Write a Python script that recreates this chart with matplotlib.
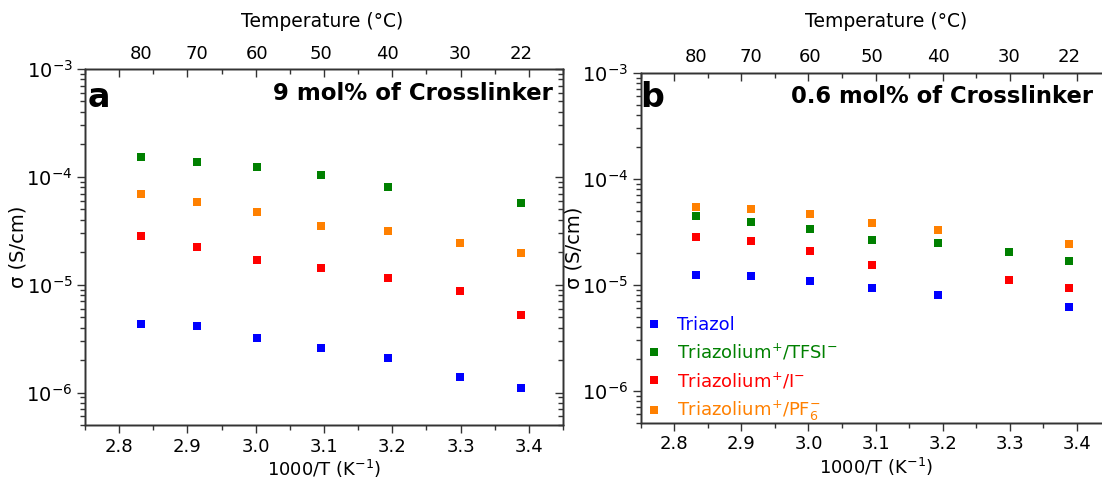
import matplotlib
matplotlib.use('Agg')
import matplotlib.pyplot as plt
import matplotlib.transforms as mtrans
import numpy as np
from matplotlib.ticker import LogLocator, NullFormatter, MultipleLocator, FormatStrFormatter

# ---- data ----
inv_T = [2.832, 2.914, 3.002, 3.095, 3.193, 3.299, 3.388]
temp_labels = ['80', '70', '60', '50', '40', '30', '22']

a_triazol = [4.31e-6, 4.10e-6, 3.19e-6, 2.61e-6, 2.08e-6, 1.39e-6, 1.09e-6]
a_tfsi = [1.52e-4, 1.36e-4, 1.24e-4, 1.04e-4, 8.09e-5, np.nan, 5.74e-5]
a_iodide = [2.81e-5, 2.25e-5, 1.70e-5, 1.42e-5, 1.15e-5, 8.65e-6, 5.25e-6]
a_pf6 = [6.97e-5, 5.87e-5, 4.74e-5, 3.47e-5, 3.12e-5, 2.43e-5, 1.97e-5]

b_triazol = [1.24e-5, 1.20e-5, 1.09e-5, 9.41e-6, 8.09e-6, np.nan, 6.14e-6]
b_tfsi = [4.42e-5, 3.94e-5, 3.38e-5, 2.64e-5, 2.45e-5, 2.05e-5, 1.68e-5]
b_iodide = [2.81e-5, 2.56e-5, 2.06e-5, 1.55e-5, np.nan, 1.10e-5, 9.22e-6]
b_pf6 = [5.46e-5, 5.14e-5, 4.64e-5, 3.82e-5, 3.31e-5, np.nan, 2.40e-5]

series_labels = ['Triazol', 'Triazolium$^{+}$/TFSI$^{-}$',
                 'Triazolium$^{+}$/I$^{-}$', 'Triazolium$^{+}$/PF$_{6}^{-}$']
colors = ['#0000FF', '#008000', '#FF0000', '#FF8000']
y_tick_labels = ['$10^{-6}$', '$10^{-5}$', '$10^{-4}$', '$10^{-3}$']
y_tick_values = [1e-6, 1e-5, 1e-4, 1e-3]

plt.rcParams['font.family'] = ['DejaVu Sans']
plt.rcParams['mathtext.default'] = 'regular'

W, H = 1102, 483
fig = plt.figure(figsize=(W / 100, H / 100), dpi=100)


def px_axes(l, t, r, b):
    return [l / W, 1 - b / H, (r - l) / W, (b - t) / H]


SPINE = '#333333'
FS = 13


def style(ax, ylab_x):
    ax.set_yscale('log')
    ax.set_ylim(5e-7, 1e-3)
    ax.set_xlim(2.75, 3.45)
    ax.xaxis.set_major_locator(MultipleLocator(0.1))
    ax.xaxis.set_minor_locator(MultipleLocator(0.05))
    ax.xaxis.set_major_formatter(FormatStrFormatter('%.1f'))
    ax.set_yticks(y_tick_values)
    ax.set_yticklabels(y_tick_labels)
    ax.yaxis.set_minor_locator(LogLocator(base=10, subs=np.arange(2, 10), numticks=20))
    ax.yaxis.set_minor_formatter(NullFormatter())
    ax.tick_params(which='major', direction='out', length=6, width=1.0,
                   labelsize=FS, color=SPINE, pad=3)
    ax.tick_params(axis='y', which='major', labelsize=14, pad=3)
    ax.tick_params(which='minor', direction='out', length=3.5, width=1.0, color=SPINE)
    for s in ax.spines.values():
        s.set_color(SPINE)
        s.set_linewidth(1.0)
    # mirrored top axis (ticks inward)
    axt = ax.twiny()
    axt.set_xlim(ax.get_xlim())
    axt.xaxis.set_major_locator(MultipleLocator(0.1))
    axt.xaxis.set_minor_locator(MultipleLocator(0.05))
    axt.tick_params(axis='x', which='major', direction='in', length=6, width=1.0,
                    labeltop=False, color=SPINE)
    axt.tick_params(axis='x', which='minor', direction='in', length=3.5, width=1.0, color=SPINE)
    # mirrored right axis (ticks inward)
    axr = ax.twinx()
    axr.set_yscale('log')
    axr.set_ylim(ax.get_ylim())
    axr.set_yticks(y_tick_values)
    axr.yaxis.set_minor_locator(LogLocator(base=10, subs=np.arange(2, 10), numticks=20))
    axr.tick_params(axis='y', which='major', direction='in', length=6, width=1.0,
                    labelright=False, color=SPINE)
    axr.tick_params(axis='y', which='minor', direction='in', length=3.5, width=1.0,
                    labelright=False, color=SPINE)
    for a2 in (axt, axr):
        for s in a2.spines.values():
            s.set_color(SPINE)
            s.set_linewidth(1.0)
    # temperature labels on top
    tr = mtrans.blended_transform_factory(ax.transData, ax.transAxes)
    for x, lab in zip(inv_T, temp_labels):
        ax.annotate(lab, xy=(x, 1.0), xycoords=tr, xytext=(0, 4.5),
                    textcoords='offset points', ha='center', va='bottom', fontsize=FS)
    ax.set_xlabel('1000/T (K$^{-1}$)', fontsize=FS, labelpad=2)
    ax.set_ylabel('σ (S/cm)', fontsize=14)
    ax.yaxis.set_label_coords(ylab_x, 0.5)


ax_a = fig.add_axes(px_axes(85, 69, 563, 425))
ax_b = fig.add_axes(px_axes(640.7, 72.7, 1110.5, 422.7))

style(ax_a, -0.12)
style(ax_b, -0.121)

for ys, c, lab in zip([a_triazol, a_tfsi, a_iodide, a_pf6], colors, series_labels):
    ax_a.plot(inv_T, ys, 's', color=c, ms=5.8, mew=0, label=lab, zorder=5)
for ys, c, lab in zip([b_triazol, b_tfsi, b_iodide, b_pf6], colors, series_labels):
    ax_b.plot(inv_T, ys, 's', color=c, ms=5.8, mew=0, label=lab, zorder=5)

ax_a.text(0.006, 0.894, 'a', transform=ax_a.transAxes, fontsize=24, fontweight='bold',
          va='baseline', ha='left')
ax_b.text(0.0, 0.902, 'b', transform=ax_b.transAxes, fontsize=24, fontweight='bold',
          va='baseline', ha='left')
ax_a.text(0.979, 0.913, '9 mol% of Crosslinker', transform=ax_a.transAxes, fontsize=16.5,
          fontweight='bold', va='baseline', ha='right')
ax_b.text(0.963, 0.913, '0.6 mol% of Crosslinker', transform=ax_b.transAxes, fontsize=16.3,
          fontweight='bold', va='baseline', ha='right')

fig.text(322 / W, 1 - 31 / H, 'Temperature (°C)', ha='center', va='bottom', fontsize=13.5)
fig.text(886 / W, 1 - 31 / H, 'Temperature (°C)', ha='center', va='bottom', fontsize=13.5)

leg = ax_b.legend(loc='upper left', bbox_to_anchor=(0.012, 0.305), frameon=False,
                  fontsize=FS, handlelength=0.8, handletextpad=0.9, labelspacing=0.45,
                  borderpad=0, borderaxespad=0, labelcolor='linecolor', markerscale=1.0)

fig.savefig('out.png', dpi=100)
